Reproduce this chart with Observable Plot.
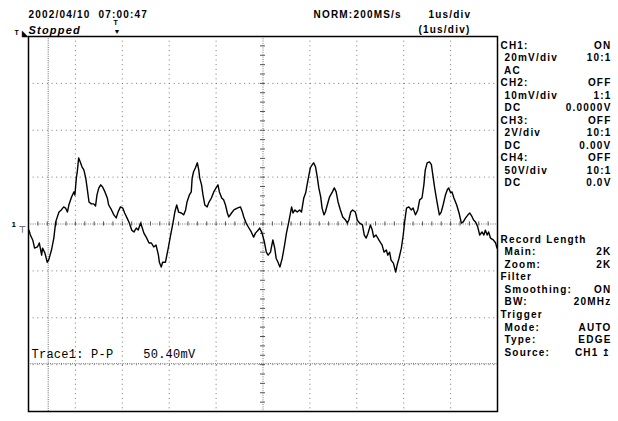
<!DOCTYPE html>
<html><head><meta charset="utf-8">
<script src="https://cdn.jsdelivr.net/npm/d3@7"></script>
<script src="https://cdn.jsdelivr.net/npm/@observablehq/plot@0.6"></script>
<style>
body{margin:0;background:#fff;}
#chart svg{display:block;}
svg text{white-space:pre;}
</style></head><body><div id="chart"></div>
<script>
// CH1 trace: time in microseconds, voltage in mV (20 mV/div, 1 us/div)
const timeUs = [0.01,0.04,0.09,0.13,0.19,0.23,0.28,0.30,0.35,0.40,0.43,0.49,0.54,0.58,0.65,0.70,0.75,0.79,0.83,0.86,0.92,0.97,0.99,1.02,1.04,1.07,1.11,1.14,1.18,1.22,1.25,1.29,1.34,1.39,1.43,1.46,1.50,1.54,1.58,1.63,1.68,1.71,1.77,1.82,1.87,1.91,1.96,2.01,2.05,2.10,2.15,2.20,2.25,2.30,2.34,2.39,2.42,2.46,2.51,2.57,2.62,2.67,2.72,2.77,2.79,2.83,2.86,2.92,2.98,3.03,3.08,3.12,3.16,3.20,3.26,3.31,3.35,3.38,3.43,3.47,3.49,3.52,3.56,3.60,3.63,3.65,3.69,3.72,3.76,3.81,3.84,3.90,3.95,4.00,4.04,4.07,4.12,4.16,4.20,4.24,4.27,4.33,4.38,4.45,4.52,4.56,4.59,4.64,4.70,4.75,4.80,4.84,4.90,4.93,4.98,5.03,5.07,5.11,5.16,5.21,5.25,5.28,5.32,5.36,5.41,5.46,5.50,5.55,5.61,5.64,5.68,5.73,5.78,5.82,5.87,5.91,5.94,5.98,6.01,6.05,6.08,6.12,6.16,6.19,6.23,6.26,6.30,6.33,6.37,6.42,6.48,6.52,6.56,6.60,6.65,6.70,6.76,6.80,6.83,6.87,6.91,6.97,7.01,7.06,7.12,7.16,7.20,7.24,7.29,7.33,7.36,7.41,7.47,7.51,7.54,7.58,7.63,7.66,7.70,7.73,7.78,7.83,7.86,7.90,7.95,7.99,8.02,8.06,8.11,8.16,8.20,8.25,8.30,8.34,8.39,8.43,8.46,8.50,8.55,8.59,8.63,8.66,8.71,8.76,8.80,8.84,8.89,8.93,8.96,9.00,9.03,9.07,9.13,9.18,9.23,9.27,9.32,9.37,9.41,9.46,9.49,9.53,9.58,9.62,9.67,9.71,9.74,9.78,9.81,9.85,9.91,9.96,9.99];
const ch1mV = [-2.6,-4.7,-6.8,-10.3,-9.8,-8.1,-13.3,-10.3,-12.4,-16.3,-15.4,-11.1,-6.0,0.9,5.1,6.0,7.3,6.8,5.1,8.1,11.6,13.7,12.4,19.7,22.3,28.2,26.1,24.4,23.1,19.7,15.4,9.4,8.6,8.6,7.7,12.4,15.4,16.7,15.8,13.7,11.1,8.1,6.0,3.9,2.6,5.1,7.3,6.8,4.7,2.6,0.4,-2.6,-3.4,-1.7,-2.6,0.4,-1.3,-3.9,-5.6,-8.1,-8.1,-9.8,-9.0,-13.3,-16.3,-18.4,-16.3,-16.3,-10.3,-4.7,0.4,5.1,8.1,5.1,4.7,3.9,6.0,9.4,12.4,13.7,19.7,22.3,24.0,26.1,23.1,19.7,16.7,12.4,8.1,7.3,9.0,11.1,13.7,15.4,16.7,13.7,11.1,10.3,8.1,4.7,3.0,4.7,6.0,6.8,7.3,5.1,3.0,0.4,-1.7,-3.4,-5.6,-3.9,-2.6,-1.7,-3.9,-7.7,-12.0,-13.3,-12.0,-6.8,-10.3,-14.6,-16.3,-18.4,-14.6,-9.0,-3.9,0.9,7.3,4.7,6.0,5.1,6.0,5.1,11.1,13.3,16.7,21.0,24.0,25.3,26.1,24.4,19.7,15.4,11.6,6.8,3.9,5.1,8.1,11.6,13.7,15.4,13.7,9.4,6.0,3.0,1.7,0.4,1.7,5.1,6.0,5.1,1.7,0.4,-0.4,-4.7,-6.0,-3.9,-0.4,-2.6,-5.6,-4.7,-6.8,-8.1,-9.0,-12.0,-11.1,-13.3,-12.0,-15.4,-16.7,-20.5,-17.5,-14.6,-10.3,-4.7,0.9,6.8,7.3,6.0,6.8,3.9,6.0,10.3,11.1,16.7,23.1,26.1,26.5,25.3,19.7,15.4,9.4,3.9,5.1,8.1,12.4,14.6,15.4,13.3,13.7,11.1,8.1,4.7,0.4,0.9,2.6,3.9,4.7,3.0,1.7,0.9,-1.3,-4.7,-3.4,-4.7,-2.6,-4.7,-3.4,-6.0,-6.8,-8.1,-10.3];

const gridTimeUs = [1,2,3,4,6,7,8,9];
const gridVoltMV = [-60,-40,-20,20,40,60];
const centerTimeUs = [5];
const centerVoltMV = [0];
const cursorTimeUs = [0.42];
const cursorVoltMV = [-59.6];

const headerDate = "2002/04/10  07:00:47";
const headerState = "Stopped";
const headerMode = "NORM:200MS/s";
const headerScale = "1us/div";
const headerZoom = "(1us/div)";
const traceReadout = "Trace1: P-P    50.40mV";

const panel1Labels = ["CH1:", " 20mV/div", " AC", "CH2:", " 10mV/div", " DC", "CH3:", " 2V/div", " DC", "CH4:", " 50V/div", " DC"];
const panel1Values = ["ON", "10:1", "", "OFF", "1:1", "0.0000V", "OFF", "10:1", "0.00V", "OFF", "10:1", "0.0V"];
const panel2Labels = ["Record Length", " Main:", " Zoom:", "Filter", " Smoothing:", " BW:", "Trigger", " Mode:", " Type:", " Source:"];
const panel2Values = ["", "2K", "2K", "", "ON", "20MHz", "", "AUTO", "EDGE", "CH1"];

const trace = timeUs.map((t, i) => ({t, v: ch1mV[i]}));
const minorT = d3.range(0, 10.001, 0.2);
const minorV = d3.range(-80, 80.001, 4);

const ML = 28, MT = 36, MR = 121, MB = 10, W = 618, H = 421;
const F = "'Liberation Sans', Arial, sans-serif";
function txt(s, X, Y, o = {}) {
  return Plot.text([s], {text: d => d, frameAnchor: "top-left", dx: X - ML, dy: Y - MT,
    textAnchor: "start", lineAnchor: "middle", fontFamily: F, fontSize: 10, fontWeight: "bold", fill: "black", ...o});
}
const panelMarks = [];
panel1Labels.forEach((l, i) => {
  const y = 45 + i * 12.5;
  panelMarks.push(txt(l, 500, y));
  if (panel1Values[i]) panelMarks.push(txt(panel1Values[i], 611, y, {textAnchor: "end"}));
});
panel2Labels.forEach((l, i) => {
  const y = 239 + i * 12.55;
  panelMarks.push(txt(l, 500, y));
  if (panel2Values[i]) panelMarks.push(txt(panel2Values[i], i === 9 ? 598 : 611, y, {textAnchor: "end"}));
});

const chart = Plot.plot({
  width: W, height: H,
  marginLeft: ML, marginTop: MT, marginRight: MR, marginBottom: MB,
  x: {domain: [0, 10], axis: null},
  y: {domain: [-80, 80], axis: null},
  style: {background: "white", letterSpacing: "1.2px"},
  marks: [
    Plot.ruleX(gridTimeUs, {stroke: "#777", strokeWidth: 1, strokeDasharray: "1,3.7"}),
    Plot.ruleY(gridVoltMV, {stroke: "#777", strokeWidth: 1, strokeDasharray: "1,3.7"}),
    Plot.ruleX(cursorTimeUs, {stroke: "#666", strokeWidth: 1, strokeDasharray: "1,1.2"}),
    Plot.ruleY(cursorVoltMV, {stroke: "#666", strokeWidth: 1, strokeDasharray: "1,1.2"}),
    Plot.ruleX(centerTimeUs, {stroke: "#777", strokeWidth: 1, strokeDasharray: "1,1.3"}),
    Plot.ruleY(centerVoltMV, {stroke: "#777", strokeWidth: 1, strokeDasharray: "1,1.3"}),
    Plot.ruleX(minorT, {y1: -0.9, y2: 0.9, stroke: "#555", strokeWidth: 1}),
    Plot.ruleY(minorV, {x1: 4.947, x2: 5.053, stroke: "#555", strokeWidth: 1}),
    Plot.line(trace, {x: "t", y: "v", stroke: "black", strokeWidth: 1.4, curve: "linear"}),
    Plot.frame({stroke: "black", strokeWidth: 1.5}),
    txt(headerDate, 28, 14),
    txt(headerState, 28, 30, {fontSize: 11, fontStyle: "italic"}),
    txt(headerMode, 313, 14),
    txt(headerScale, 428, 14),
    txt(headerZoom, 418, 29),
    txt("T", 113, 22, {fontSize: 7}),
    txt("\u25BC", 113, 31, {fontSize: 7}),
    txt("T", 14, 32, {fontSize: 7}),
    txt("\u25E3", 21, 33, {fontSize: 8}),
    txt("1", 11, 224, {fontSize: 8}),
    txt("\u22A4", 18, 230, {fontSize: 9, fontWeight: "normal", fontFamily: "DejaVu Sans"}),
    txt(traceReadout, 31, 354, {fontFamily: "'Liberation Mono', 'DejaVu Sans Mono', monospace", fontSize: 12, fontWeight: "normal"}),
    txt("\u21A5", 601, 352, {fontSize: 10, fontFamily: "DejaVu Sans"}),
    ...panelMarks
  ]
});
d3.select(chart).selectAll("g[font-family*='Mono'] text").style("letter-spacing", "0.25px");
d3.select(chart).selectAll("g[font-family='DejaVu Sans'] text").style("letter-spacing", "0px");
document.getElementById("chart").append(chart);
</script>
</body></html>
